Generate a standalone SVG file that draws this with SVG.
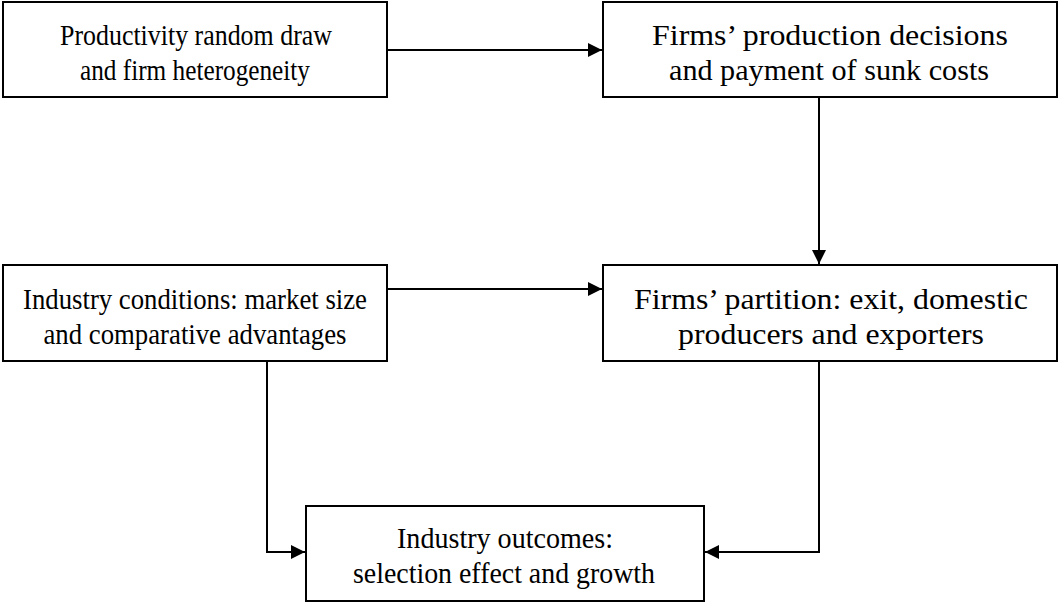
<svg xmlns="http://www.w3.org/2000/svg" width="1060" height="603" viewBox="0 0 1060 603">
<style>
.box{fill:#fff;stroke:#000;stroke-width:2}
.t{font-family:"Liberation Serif","Times New Roman",serif;font-size:30px;fill:#000;text-anchor:middle}
.c{fill:none;stroke:#000;stroke-width:2}
</style>
<defs>
<marker id="ah" markerWidth="14" markerHeight="14" refX="14" refY="7" orient="auto" markerUnits="userSpaceOnUse">
<path d="M0,0 L14,7 L0,14 Z" fill="#000"/>
</marker>
</defs>
<rect width="1060" height="603" fill="#fff"/>
<g id="connectors">
<path class="c" d="M387,50 H602" marker-end="url(#ah)"/>
<path class="c" d="M819,97 V264" marker-end="url(#ah)"/>
<path class="c" d="M387,289 H602" marker-end="url(#ah)"/>
<path class="c" d="M267,361 V552 H305" marker-end="url(#ah)"/>
<path class="c" d="M819,361 V552 H705" marker-end="url(#ah)"/>
</g>
<g id="n1"><rect class="box" x="3" y="2" width="384" height="95"/>
<text class="t" x="196" y="45" textLength="272" lengthAdjust="spacingAndGlyphs">Productivity random draw</text><text class="t" x="195" y="80" textLength="230" lengthAdjust="spacingAndGlyphs">and firm heterogeneity</text></g>
<g id="n2"><rect class="box" x="603" y="2" width="454" height="95"/>
<text class="t" x="830" y="45" textLength="356" lengthAdjust="spacingAndGlyphs">Firms’ production decisions</text><text class="t" x="829" y="80" textLength="320" lengthAdjust="spacingAndGlyphs">and payment of sunk costs</text></g>
<g id="n3"><rect class="box" x="3" y="265" width="384" height="96"/>
<text class="t" x="195" y="309" textLength="344" lengthAdjust="spacingAndGlyphs">Industry conditions: market size</text><text class="t" x="195" y="344" textLength="303" lengthAdjust="spacingAndGlyphs">and comparative advantages</text></g>
<g id="n4"><rect class="box" x="603" y="265" width="454" height="96"/>
<text class="t" x="831" y="309" textLength="394" lengthAdjust="spacingAndGlyphs">Firms’ partition: exit, domestic</text><text class="t" x="831" y="344" textLength="306" lengthAdjust="spacingAndGlyphs">producers and exporters</text></g>
<g id="n5"><rect class="box" x="306" y="506" width="398" height="95"/>
<text class="t" x="505" y="548" textLength="216" lengthAdjust="spacingAndGlyphs">Industry outcomes:</text><text class="t" x="504" y="583" textLength="302" lengthAdjust="spacingAndGlyphs">selection effect and growth</text></g>
</svg>
